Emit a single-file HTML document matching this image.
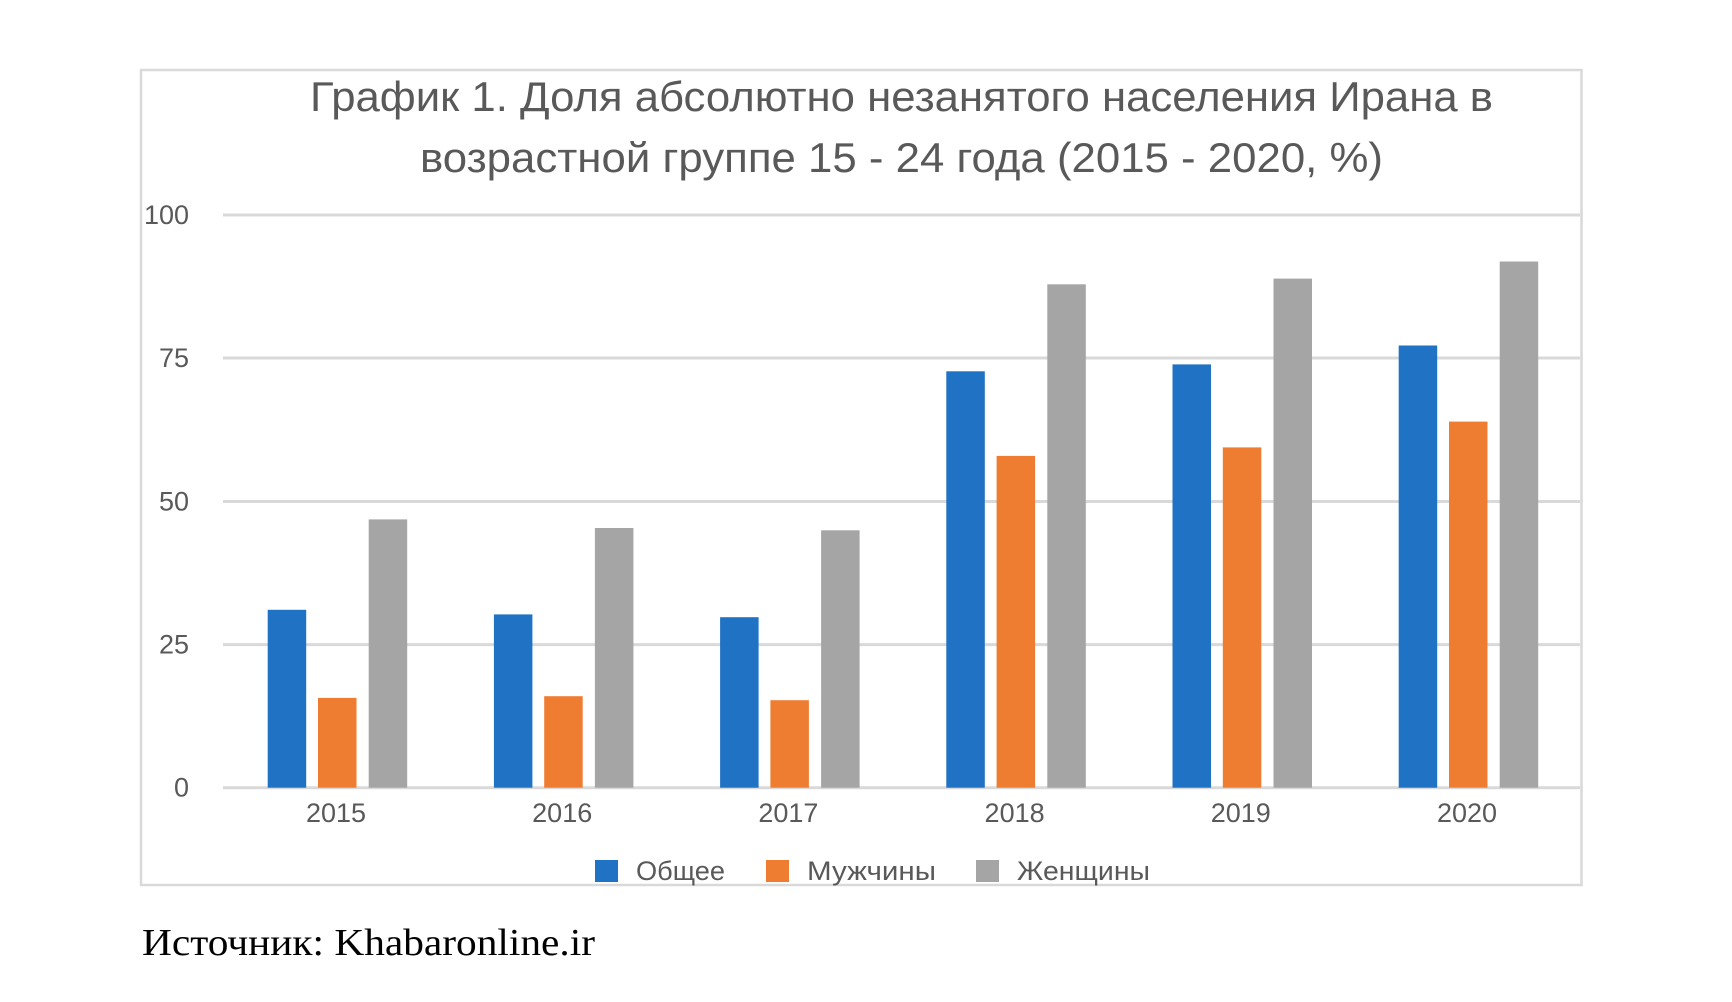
<!DOCTYPE html>
<html><head><meta charset="utf-8"><style>html,body{margin:0;padding:0;background:#fff;}svg{display:block}</style></head>
<body>
<svg width="1732" height="1002" viewBox="0 0 1732 1002" xmlns="http://www.w3.org/2000/svg">
<rect x="0" y="0" width="1732" height="1002" fill="#fff"/>
<rect x="141" y="70" width="1440.5" height="815" fill="none" stroke="#d9d9d9" stroke-width="2.5"/>
<g font-family="Liberation Sans, DejaVu Sans, sans-serif" fill="#595959">
<text x="310" y="111" font-size="42" textLength="1183" lengthAdjust="spacingAndGlyphs">График 1. Доля абсолютно незанятого населения Ирана в</text>
<text x="420" y="172" font-size="42" textLength="963" lengthAdjust="spacingAndGlyphs">возрастной группе 15 - 24 года (2015 - 2020, %)</text>
</g>
<g stroke="#d9d9d9" stroke-width="3">
<line x1="223" y1="215" x2="1580" y2="215"/>
<line x1="223" y1="358" x2="1580" y2="358"/>
<line x1="223" y1="501.5" x2="1580" y2="501.5"/>
<line x1="223" y1="644.6" x2="1580" y2="644.6"/>
<line x1="223" y1="787.7" x2="1580" y2="787.7"/>
</g>
<g font-family="Liberation Sans, DejaVu Sans, sans-serif" fill="#595959" font-size="27" text-anchor="end">
<text x="189" y="224">100</text>
<text x="189" y="367">75</text>
<text x="189" y="510.5">50</text>
<text x="189" y="653.6">25</text>
<text x="189" y="796.7">0</text>
</g>
<g font-family="Liberation Sans, DejaVu Sans, sans-serif" fill="#595959" font-size="27" text-anchor="middle">
<text x="336" y="822">2015</text>
<text x="562.2" y="822">2016</text>
<text x="788.4" y="822">2017</text>
<text x="1014.6" y="822">2018</text>
<text x="1240.8" y="822">2019</text>
<text x="1467" y="822">2020</text>
</g>
<g fill="#1f72c4">
<rect x="267.7" y="609.8" width="38.5" height="177.9"/>
<rect x="493.9" y="614.4" width="38.5" height="173.3"/>
<rect x="720.1" y="617.2" width="38.5" height="170.5"/>
<rect x="946.3" y="371.3" width="38.5" height="416.4"/>
<rect x="1172.5" y="364.4" width="38.5" height="423.3"/>
<rect x="1398.7" y="345.5" width="38.5" height="442.2"/>
</g>
<g fill="#ef7d31">
<rect x="318" y="697.9" width="38.5" height="89.8"/>
<rect x="544.2" y="696.2" width="38.5" height="91.5"/>
<rect x="770.4" y="700.2" width="38.5" height="87.5"/>
<rect x="996.6" y="455.9" width="38.5" height="331.8"/>
<rect x="1222.8" y="447.4" width="38.5" height="340.3"/>
<rect x="1449" y="421.6" width="38.5" height="366.1"/>
</g>
<g fill="#a5a5a5">
<rect x="368.7" y="519.4" width="38.5" height="268.3"/>
<rect x="594.9" y="528" width="38.5" height="259.7"/>
<rect x="821.1" y="530.3" width="38.5" height="257.4"/>
<rect x="1047.3" y="284.3" width="38.5" height="503.4"/>
<rect x="1273.5" y="278.6" width="38.5" height="509.1"/>
<rect x="1499.7" y="261.5" width="38.5" height="526.2"/>
</g>
<rect x="595" y="860" width="23" height="22" fill="#1f72c4"/>
<rect x="766" y="860" width="23" height="22" fill="#ef7d31"/>
<rect x="976" y="860" width="23" height="22" fill="#a5a5a5"/>
<g font-family="Liberation Sans, DejaVu Sans, sans-serif" fill="#595959" font-size="27">
<text x="636" y="880" textLength="89" lengthAdjust="spacingAndGlyphs">Общее</text>
<text x="807" y="880" textLength="129" lengthAdjust="spacingAndGlyphs">Мужчины</text>
<text x="1017" y="880" textLength="133" lengthAdjust="spacingAndGlyphs">Женщины</text>
</g>
<text x="142" y="955" font-family="Liberation Serif, DejaVu Serif, serif" font-size="38" fill="#000" textLength="453" lengthAdjust="spacingAndGlyphs">Источник: Khabaronline.ir</text>
</svg>
</body></html>
